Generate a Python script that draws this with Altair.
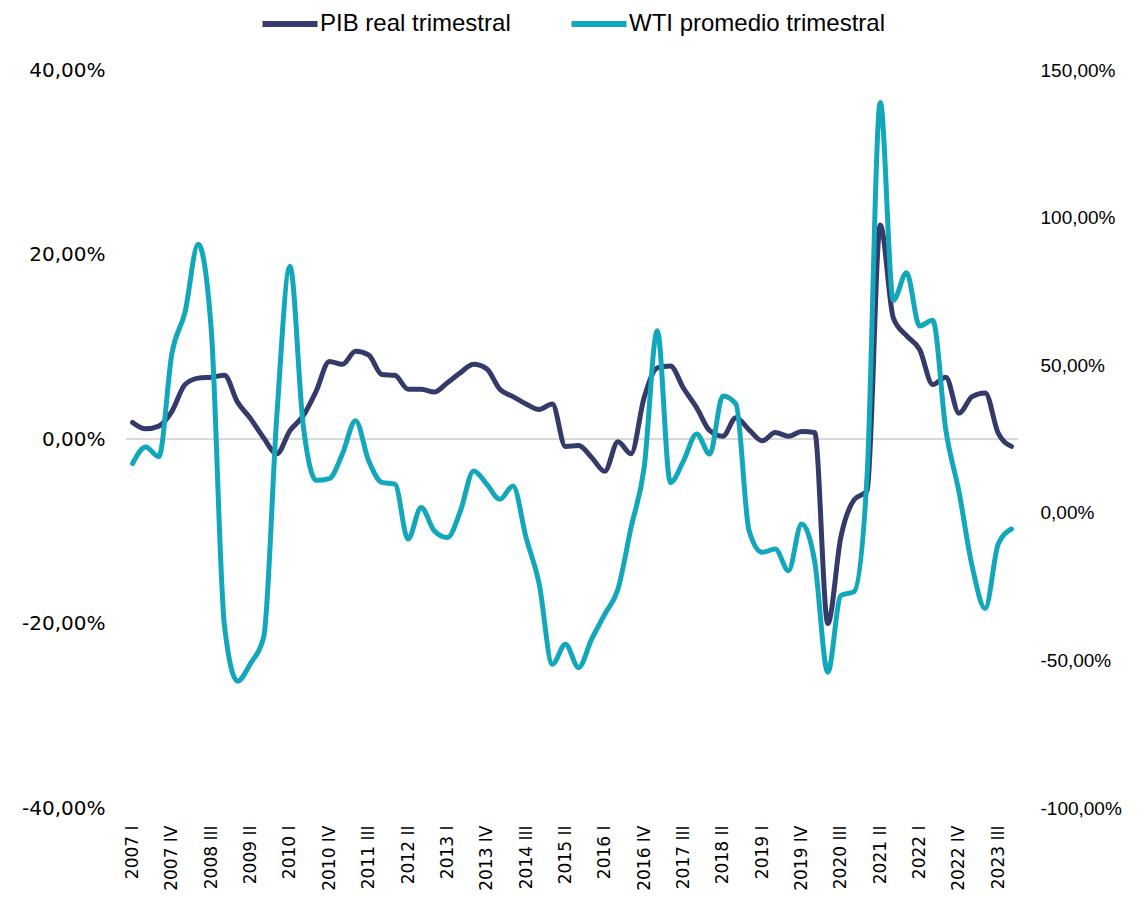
import altair as alt
import pandas as pd

# Quarter labels 2007 I .. 2023 IV
years = list(range(2007, 2024))
roman = ["I", "II", "III", "IV"]
quarters = [f"{y} {r}" for y in years for r in roman]
shown_labels = quarters[::3]

# PIB real trimestral (% , left axis)
pib = [1.8, 1.1, 1.4, 3.0, 5.9, 6.6, 6.7, 6.9, 4.0, 2.2,
       0.1, -1.6, 0.9, 2.5, 5.2, 8.4, 8.1, 9.5, 9.1, 7.0,
       6.9, 5.4, 5.4, 5.1, 6.1, 7.2, 8.1, 7.6, 5.4, 4.6,
       3.8, 3.2, 3.8, -0.8, -0.7, -2.0, -3.5, -0.3, -1.6, 4.5,
       7.7, 7.9, 5.5, 3.4, 0.9, 0.3, 2.3, 1.0, -0.2, 0.7,
       0.3, 0.8, 0.7, -20.0, -10.6, -6.6, -5.6, 23.2, 13.1, 11.2,
       9.7, 5.9, 6.7, 2.8, 4.6, 5.0, 0.6, -0.8]

# WTI promedio trimestral (% , right axis)
wti = [16.7, 22.3, 19.0, 54.0, 68.0, 91.0, 62.0, -38.0, -57.0, -51.0,
       -42.0, 33.0, 83.5, 30.0, 11.0, 11.6, 20.0, 31.2, 17.6, 10.3,
       9.7, -8.9, 1.8, -6.1, -8.4, 0.7, 14.2, 9.7, 4.6, 9.1,
       -8.4, -24.2, -51.3, -44.5, -52.4, -42.8, -34.3, -25.9, -5.0, 15.3,
       61.7, 10.3, 17.6, 26.7, 19.9, 39.6, 36.8, -6.1, -13.4, -12.3,
       -19.6, -3.8, -16.5, -54.0, -28.0, -26.7, 13.0, 139.0, 72.0, 81.3,
       63.3, 65.2, 28.0, 7.1, -18.0, -32.4, -10.5, -5.5]

series_names = ["PIB real trimestral", "WTI promedio trimestral"]
series_colors = ["#343A69", "#12A7BB"]

df_pib = pd.DataFrame({"trimestre": quarters, "valor": pib, "serie": series_names[0]})
df_wti = pd.DataFrame({"trimestre": quarters, "valor": wti, "serie": series_names[1]})
df_zero = pd.DataFrame({"valor": [0]})

FONT = "Liberation Sans"
pct_expr = "(datum.value < 0 ? '-' : '') + replace(format(abs(datum.value), '.2f'), '.', ',') + '%'"

x_enc = alt.X(
    "trimestre:O",
    sort=quarters,
    scale=alt.Scale(type="point", padding=0.5),
    axis=alt.Axis(
        values=shown_labels, labelAngle=-90, domain=False, ticks=False, grid=False,
        title=None, labelFont="DejaVu Sans", labelFontSize=17, labelColor="#000000",
        labelPadding=17, labelOverlap=False,
    ),
)

color_enc = alt.Color(
    "serie:N",
    scale=alt.Scale(domain=series_names, range=series_colors),
    legend=alt.Legend(title=None),
)

zero_rule = alt.Chart(df_zero).mark_rule(color="#D9D9D9", strokeWidth=2).encode(
    y=alt.Y("valor:Q", scale=alt.Scale(domain=[-40, 40], nice=False, zero=False), axis=None)
)

pib_line = alt.Chart(df_pib).mark_line(strokeWidth=5, interpolate="monotone", strokeCap="round").encode(
    x=x_enc,
    y=alt.Y(
        "valor:Q",
        scale=alt.Scale(domain=[-40, 40], nice=False, zero=False),
        axis=alt.Axis(
            orient="left", values=[-40, -20, 0, 20, 40], labelExpr=pct_expr,
            domain=False, ticks=False, grid=False, title=None,
            labelFont="DejaVu Sans", labelFontSize=20, labelColor="#000000", labelPadding=21,
        ),
    ),
    color=color_enc,
)

wti_line = alt.Chart(df_wti).mark_line(strokeWidth=5, interpolate="monotone", strokeCap="round").encode(
    x=x_enc,
    y=alt.Y(
        "valor:Q",
        scale=alt.Scale(domain=[-100, 150], nice=False, zero=False),
        axis=alt.Axis(
            orient="right", values=[-100, -50, 0, 50, 100, 150], labelExpr=pct_expr,
            domain=False, ticks=False, grid=False, title=None,
            labelFont=FONT, labelFontSize=19, labelColor="#000000", labelPadding=22,
        ),
    ),
    color=color_enc,
)

chart = (
    alt.layer(zero_rule, pib_line, wti_line)
    .resolve_scale(y="independent")
    .properties(
        width=892, height=738, autosize="none",
        padding={"left": 118, "top": 62, "right": 122, "bottom": 85},
        background="#FFFFFF",
    )
    .configure_view(strokeWidth=0)
    .configure_legend(
        orient="none", legendX=152, legendY=-58, direction="horizontal",
        symbolType="M-4,0H4", symbolStrokeWidth=6, symbolSize=189,
        labelFont=FONT, labelFontSize=24, labelColor="#000000", labelOffset=18,
        columnPadding=48, labelLimit=400,
    )
)

chart.save("out.html", embed_options={"renderer": "svg", "actions": False})
